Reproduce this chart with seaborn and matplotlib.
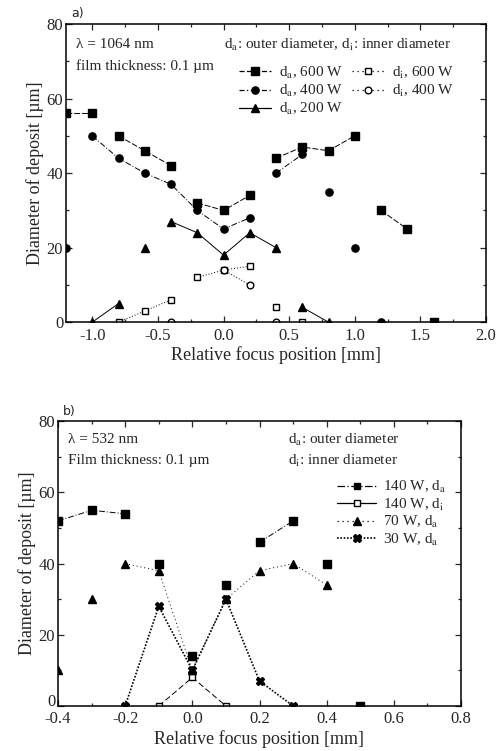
import numpy as np
import pandas as pd
import matplotlib
matplotlib.use("Agg")
import matplotlib.pyplot as plt
from matplotlib.lines import Line2D
from matplotlib.transforms import ScaledTranslation
import seaborn as sns

# ---------------- data: panel a (1064 nm) ----------------
a600_x = [-1.2, -1.0, -0.8, -0.6, -0.4, -0.2, 0.0, 0.2, 0.4, 0.6, 0.8, 1.0, 1.2, 1.4, 1.6]
a600_y = [56, 56, 50, 46, 42, 32, 30, 34, 44, 47, 46, 50, 30, 25, 0]
a600_seg = [0, 0, 1, 1, 1, 2, 2, 2, 3, 3, 3, 3, 4, 4, 5]

a400_x = [-1.2, -1.0, -0.8, -0.6, -0.4, -0.2, 0.0, 0.2, 0.4, 0.6, 0.8, 1.0, 1.2]
a400_y = [20, 50, 44, 40, 37, 30, 25, 28, 40, 45, 35, 20, 0]
a400_seg = [0, 1, 1, 1, 1, 1, 1, 1, 2, 2, 3, 4, 5]

a200_x = [-1.0, -0.8, -0.6, -0.4, -0.2, 0.0, 0.2, 0.4, 0.6, 0.8]
a200_y = [0, 5, 20, 27, 24, 18, 24, 20, 4, 0]
a200_seg = [0, 0, 1, 2, 2, 2, 2, 2, 3, 3]

i600_x = [-0.8, -0.6, -0.4, -0.2, 0.0, 0.2, 0.4, 0.6]
i600_y = [0, 3, 6, 12, 14, 15, 4, 0]
i600_seg = [0, 0, 0, 1, 1, 1, 2, 3]

i400_x = [-0.4, 0.0, 0.2, 0.4]
i400_y = [0, 14, 10, 0]
i400_seg = [0, 1, 1, 2]

# ---------------- data: panel b (532 nm) ----------------
b140a_x = [-0.4, -0.3, -0.2, -0.1, 0.0, 0.1, 0.2, 0.3, 0.4, 0.5]
b140a_y = [52, 55, 54, 40, 14, 34, 46, 52, 40, 0]
b140a_seg = [0, 0, 0, 1, 2, 3, 4, 4, 5, 6]

b140i_x = [-0.1, 0.0, 0.1]
b140i_y = [0, 8, 0]
b140i_seg = [0, 0, 0]

b70_x = [-0.4, -0.3, -0.2, -0.1, 0.0, 0.1, 0.2, 0.3, 0.4]
b70_y = [10, 30, 40, 38, 10, 30, 38, 40, 34]
b70_seg = [0, 1, 2, 2, 2, 2, 2, 2, 2]

b30_x = [-0.2, -0.1, 0.0, 0.1, 0.2, 0.3]
b30_y = [0, 28, 10, 30, 7, 0]
b30_seg = [0, 0, 0, 0, 0, 0]

xticks_a = [-1.0, -0.5, 0.0, 0.5, 1.0, 1.5, 2.0]
xticklabels_a = ["-1.0", "-0.5", "0.0", "0.5", "1.0", "1.5", "2.0"]
xticks_b = [-0.4, -0.2, 0.0, 0.2, 0.4, 0.6, 0.8]
xticklabels_b = ["-0.4", "-0.2", "0.0", "0.2", "0.4", "0.6", "0.8"]
yticks = [0, 20, 40, 60, 80]

# ---------------- style ----------------
sns.set_theme(style="ticks")
plt.rcParams["font.family"] = ["Liberation Serif", "DejaVu Serif"]
plt.rcParams["mathtext.fontset"] = "stix"
plt.rcParams["axes.linewidth"] = 1.1
plt.rcParams["xtick.direction"] = "in"
plt.rcParams["ytick.direction"] = "in"

fig = plt.figure(figsize=(5.0, 7.51), dpi=100)
ax1 = fig.add_axes([0.132, 0.571, 0.840, 0.397])
ax2 = fig.add_axes([0.116, 0.060, 0.806, 0.379])


def draw(ax, x, y, seg, marker, ls, lw=0.7, mfc="black", ms=5.2):
    df = pd.DataFrame({"x": x, "y": y, "seg": seg})
    kw = dict(color="black", marker=marker, markersize=ms, markerfacecolor=mfc,
              markeredgecolor="black", markeredgewidth=1.0, linewidth=lw,
              linestyle=ls)
    sns.lineplot(data=df, x="x", y="y", units="seg", estimator=None, sort=False,
                 ax=ax, legend=False, **kw)


# panel a
draw(ax1, a600_x, a600_y, a600_seg, "s", (0, (6, 2)))
draw(ax1, a400_x, a400_y, a400_seg, "o", (0, (6, 2, 1, 2)))
draw(ax1, a200_x, a200_y, a200_seg, "^", "-", ms=6.2)
draw(ax1, i600_x, i600_y, i600_seg, "s", (0, (1, 2)), mfc="white", ms=4.8)
draw(ax1, i400_x, i400_y, i400_seg, "o", (0, (1, 2)), mfc="white", ms=4.8)

# panel b
draw(ax2, b140a_x, b140a_y, b140a_seg, "s", (0, (6, 2, 1, 2)))
draw(ax2, b140i_x, b140i_y, b140i_seg, "s", (0, (6, 3)), mfc="white", ms=4.8)
draw(ax2, b70_x, b70_y, b70_seg, "^", (0, (1, 3)), ms=6.2)
draw(ax2, b30_x, b30_y, b30_seg, "X", (0, (1, 1)), lw=1.2, ms=5.8)

for ax in (ax1, ax2):
    ax.set_ylim(0, 80)
    ax.set_yticks(yticks)
    ax.set_yticklabels([str(v) for v in yticks], fontsize=12)
    ax.set_ylabel("Diameter of deposit [µm]", fontsize=13, labelpad=2)
    ax.set_xlabel("Relative focus position [mm]", fontsize=13, labelpad=2)
    ax.tick_params(which="both", top=True, right=True, length=4, width=0.9)
    ax.tick_params(axis="y", pad=2)
    ax.tick_params(axis="x", pad=4)
    ax.tick_params(which="minor", length=2.5)
    ax.yaxis.set_minor_locator(matplotlib.ticker.MultipleLocator(10))
    for s in ax.spines.values():
        s.set_color("black")

ax1.set_xlim(-1.2, 2.0)
ax1.set_xticks(xticks_a)
ax1.set_xticklabels(xticklabels_a, fontsize=12)
ax1.xaxis.set_minor_locator(matplotlib.ticker.MultipleLocator(0.25))

ax2.set_xlim(-0.4, 0.8)
ax2.set_xticks(xticks_b)
ax2.set_xticklabels(xticklabels_b, fontsize=12)
ax2.xaxis.set_minor_locator(matplotlib.ticker.MultipleLocator(0.1))

# nudge the corner "0" label of panel b up so it clears "-0.4"
zero_lbl = ax2.get_yticklabels()[0]
zero_lbl.set_transform(zero_lbl.get_transform() +
                       ScaledTranslation(0, 4 / 72, fig.dpi_scale_trans))

# annotations panel a
fig.text(0.142, 0.982, "a)", fontsize=9, family="DejaVu Sans", va="center")
ax1.text(0.025, 0.93, "λ = 1064 nm", transform=ax1.transAxes, fontsize=11, va="center")
ax1.text(0.025, 0.86, "film thickness: 0.1 µm", transform=ax1.transAxes, fontsize=11, va="center")
ax1.text(0.375, 0.93, r"d$_{\mathrm{a}}$: outer diameter, d$_{\mathrm{i}}$: inner diameter",
         transform=ax1.transAxes, fontsize=11, va="center")

h_a = [
    Line2D([], [], color="black", marker="s", ms=5.2, ls=(0, (4, 2)), lw=0.9),
    Line2D([], [], color="black", marker="o", ms=5.2, ls=(0, (4, 2, 1, 2)), lw=0.9),
    Line2D([], [], color="black", marker="^", ms=6.2, ls="-", lw=0.9),
    Line2D([], [], color="black", marker="s", ms=4.8, mfc="white", ls=(0, (1, 3)), lw=0.9),
    Line2D([], [], color="black", marker="o", ms=4.8, mfc="white", ls=(0, (1, 3)), lw=0.9),
]
l_a = [r"d$_{\mathrm{a}}$, 600 W", r"d$_{\mathrm{a}}$, 400 W", r"d$_{\mathrm{a}}$, 200 W",
       r"d$_{\mathrm{i}}$, 600 W", r"d$_{\mathrm{i}}$, 400 W"]
ax1.legend(h_a, l_a, ncol=2, loc="upper left", bbox_to_anchor=(0.39, 0.895),
           frameon=False, fontsize=11, handlelength=2.1, handletextpad=0.5,
           columnspacing=0.6, labelspacing=0.15, borderpad=0.1)

# annotations panel b
fig.text(0.125, 0.452, "b)", fontsize=9, family="DejaVu Sans", va="center")
ax2.text(0.025, 0.935, "λ = 532 nm", transform=ax2.transAxes, fontsize=11, va="center")
ax2.text(0.025, 0.862, "Film thickness: 0.1 µm", transform=ax2.transAxes, fontsize=11, va="center")
ax2.text(0.57, 0.935, r"d$_{\mathrm{a}}$: outer diameter", transform=ax2.transAxes, fontsize=11, va="center")
ax2.text(0.57, 0.862, r"d$_{\mathrm{i}}$: inner diameter", transform=ax2.transAxes, fontsize=11, va="center")

h_b = [
    Line2D([], [], color="black", marker="s", ms=5, ls=(0, (6, 2, 1, 2)), lw=0.9),
    Line2D([], [], color="black", marker="s", ms=5, mfc="white", ls="-", lw=0.9),
    Line2D([], [], color="black", marker="^", ms=6, ls=(0, (1, 3)), lw=0.9),
    Line2D([], [], color="black", marker="X", ms=5.5, ls=(0, (1, 1)), lw=1.2),
]
l_b = [r"140 W, d$_{\mathrm{a}}$", r"140 W, d$_{\mathrm{i}}$", r"70 W, d$_{\mathrm{a}}$",
       r"30 W, d$_{\mathrm{a}}$"]
ax2.legend(h_b, l_b, loc="upper right", bbox_to_anchor=(0.985, 0.83),
           frameon=False, fontsize=11, handlelength=2.6, handletextpad=0.4,
           labelspacing=0.1, borderpad=0.1)

fig.savefig("out.png", dpi=100)
